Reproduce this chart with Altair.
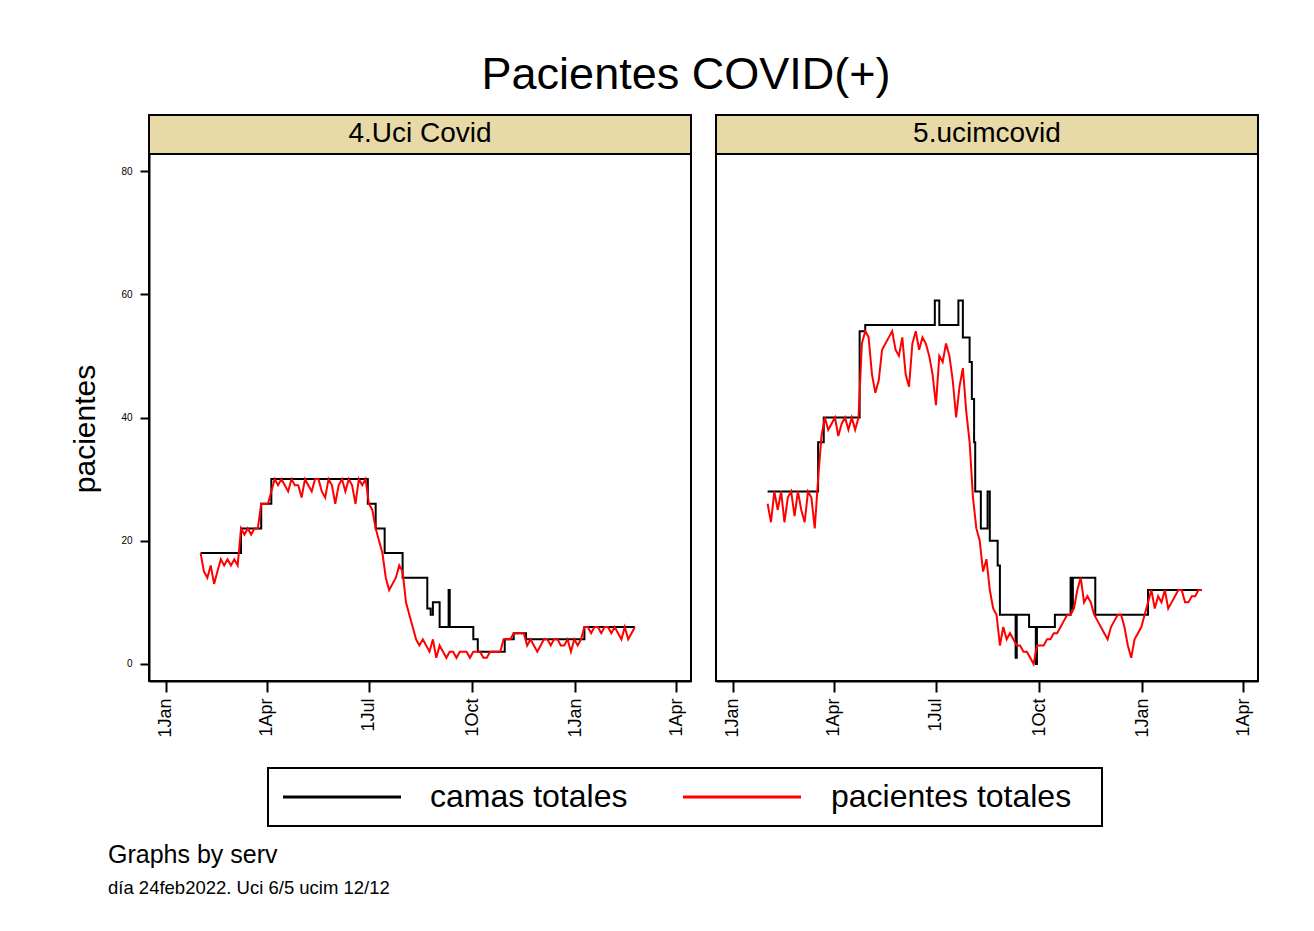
import altair as alt
import pandas as pd

FONT = "Liberation Sans"
START = "2021-02-01"
STEP_DAYS = 3

# ---- data ----
# red: pacientes totales, one value every 3 days from 1 Feb 2021
uci_pacientes = [18, 15, 14, 16, 13, 15, 17, 16, 17, 16, 17, 16, 22, 21, 22, 21, 22, 22,
                 26, 26, 26, 28,
                 30, 29, 30, 29, 28, 30, 29, 29, 27, 30, 29, 28, 30, 30, 28, 27, 30, 29,
                 26, 29, 30, 28, 30, 29, 26, 30, 29, 30,
                 26, 25, 22, 20, 18, 14, 12, 13, 14, 16, 15, 10, 8, 6, 4, 3, 4, 3,
                 2, 4, 1, 3, 2, 1, 2, 2, 1, 2, 2, 2, 1, 2, 2, 2, 1, 1, 2, 2, 2, 2,
                 4, 4, 4, 5, 5, 5, 5,
                 3, 4, 3, 2, 3, 4, 4, 3, 4, 4, 3, 3, 4, 2, 4, 3, 4,
                 6, 6, 5, 6, 6, 5, 6, 6, 5, 6, 5, 4, 6, 4, 5, 6]
ucim_pacientes = [26, 23, 28, 25, 28, 23, 27, 28, 24, 28, 25, 23, 28, 27, 22,
                  30, 37,
                  40, 38, 39, 40, 37, 39, 40, 38, 40, 38, 40,
                  52, 54, 53, 47, 44, 46, 51, 52, 53, 54, 51, 50, 53, 47, 45, 52, 54, 51,
                  53, 52, 50, 47, 42, 50, 49, 52, 50, 46, 40, 45, 48, 41, 36,
                  27, 22, 20, 15, 17, 12, 9, 8, 3, 6, 4, 5, 4, 3, 3, 2, 2, 1, 0,
                  3, 3, 3, 4, 4, 5, 5, 6, 7, 8, 8, 9, 12, 14, 10, 11, 10, 8, 7, 6,
                  5, 4, 6, 7, 8, 8, 6, 3, 1, 4, 5, 6, 8, 10, 12, 9, 11, 10, 12, 9,
                  10, 11, 12, 12, 10, 10, 11, 11, 12, 12]

# black: camas totales, step changes (day after 1 Feb 2021, new value)
uci_camas_day = [0, 36, 54, 63, 149, 156, 164, 180, 202, 205, 207, 213, 221, 222, 243,
                 247, 271, 279, 290, 342, 387]
uci_camas_val = [18, 22, 26, 30, 26, 22, 18, 14, 9, 8, 10, 6, 12, 6, 4, 2, 4, 5, 4, 6, 6]
ucim_camas_day = [0, 45, 50, 82, 87, 149, 153, 170, 174, 180, 182, 184, 185, 190, 196,
                  198, 205, 207, 221, 222, 233, 239, 240, 256, 270, 271, 272, 292, 339, 387]
ucim_camas_val = [28, 36, 40, 54, 55, 59, 55, 59, 53, 49, 43, 36, 28, 22, 28, 20, 16, 8,
                  1, 8, 6, 0, 6, 8, 14, 9, 14, 8, 12, 12]

panel_labels = ["4.Uci Covid", "5.ucimcovid"]
legend_labels = ["camas totales", "pacientes totales"]
title_text = "Pacientes COVID(+)"
ytitle_text = "pacientes"
note1 = "Graphs by serv"
note2 = "día 24feb2022. Uci 6/5 ucim 12/12"
y_ticks = [0, 20, 40, 60, 80]

W, H = 542, 527


def red_frame(vals):
    d = pd.date_range(START, periods=len(vals), freq=f"{STEP_DAYS}D")
    return pd.DataFrame({"fecha": d.strftime("%Y-%m-%d"), "v": vals})


def black_frame(days, vals):
    d = pd.Timestamp(START) + pd.to_timedelta(days, unit="D")
    return pd.DataFrame({"fecha": d.strftime("%Y-%m-%d"), "v": vals})


def dt(y, m, d):
    return alt.DateTime(year=y, month=m, date=d, utc=True)


xscale = alt.Scale(type="utc", domain=[dt(2020, 12, 17), dt(2022, 4, 14)], nice=False)
yscale = alt.Scale(domain=[-2.76, 82.76], nice=False, zero=False)
xticks = [dt(2021, 1, 1), dt(2021, 4, 1), dt(2021, 7, 1), dt(2021, 10, 1),
          dt(2022, 1, 1), dt(2022, 4, 1)]

axis_common = dict(grid=False, title=None, domainColor="black", domainWidth=2,
                   tickColor="black", tickWidth=2, labelColor="black",
                   labelFont=FONT, zindex=1)
xaxis = alt.Axis(values=xticks, labelExpr="utcFormat(datum.value, '%-d%b')",
                 labelAngle=270, labelFontSize=18, tickSize=11, labelPadding=6,
                 labelOverlap=False, **axis_common)
yaxis = alt.Axis(values=y_ticks, labelFontSize=10, tickSize=9, labelPadding=8,
                 **axis_common)


def one(text=""):
    return pd.DataFrame({"t": [text]})


def text_layer(text, x, y, size, align="left", baseline="alphabetic", angle=0):
    kw = dict(fontSize=size, font=FONT, color="black", align=align, baseline=baseline)
    if angle:
        kw["angle"] = angle
    return alt.Chart(one(text)).mark_text(**kw).encode(
        x=alt.value(x), y=alt.value(y), text="t:N")


def panel(red_vals, c_days, c_vals, label, left):
    x = alt.X("fecha:T", scale=xscale, axis=xaxis)
    y = alt.Y("v:Q", scale=yscale, axis=yaxis if left else None)
    layers = []
    if left:
        layers.append(alt.Chart(one()).mark_rect(fill="white").encode(
            x=alt.value(-138), x2=alt.value(1152), y=alt.value(-143), y2=alt.value(772)))
    layers.append(alt.Chart(black_frame(c_days, c_vals)).mark_line(
        color="black", strokeWidth=2, interpolate="step-after").encode(x=x, y=y))
    layers.append(alt.Chart(red_frame(red_vals)).mark_line(
        color="#ff0000", strokeWidth=2).encode(x=x, y=y))
    # plot frame
    layers.append(alt.Chart(one()).mark_rect(
        filled=False, stroke="black", strokeWidth=2).encode(
        x=alt.value(0), x2=alt.value(W), y=alt.value(0), y2=alt.value(H)))
    layers.append(alt.Chart(one()).mark_rect(
        fill="#e8daa6", stroke="black", strokeWidth=2).encode(
        x=alt.value(0), x2=alt.value(W), y=alt.value(-39), y2=alt.value(0)))
    layers.append(text_layer(label, W / 2, -20, 28, align="center", baseline="middle"))
    if left:
        layers.append(text_layer(title_text, 537, -65, 45, align="center"))
        layers.append(text_layer(ytitle_text, -63, 275, 30, align="center",
                                 baseline="middle", angle=270))
        layers.append(alt.Chart(one()).mark_rect(
            fill="white", stroke="black", strokeWidth=2).encode(
            x=alt.value(119), x2=alt.value(953), y=alt.value(614), y2=alt.value(672)))
        layers.append(alt.Chart(one()).mark_rule(color="black", strokeWidth=3).encode(
            x=alt.value(134), x2=alt.value(252), y=alt.value(643)))
        layers.append(alt.Chart(one()).mark_rule(color="#ff0000", strokeWidth=3).encode(
            x=alt.value(534), x2=alt.value(652), y=alt.value(643)))
        layers.append(text_layer(legend_labels[0], 281, 643, 32, baseline="middle"))
        layers.append(text_layer(legend_labels[1], 682, 643, 32, baseline="middle"))
        layers.append(text_layer(note1, -41, 709, 25))
        layers.append(text_layer(note2, -41, 740, 18.5))
    return alt.layer(*layers).properties(width=W, height=H)


left_panel = panel(uci_pacientes, uci_camas_day, uci_camas_val, panel_labels[0], True)
right_panel = panel(ucim_pacientes, ucim_camas_day, ucim_camas_val, panel_labels[1], False)

chart = alt.hconcat(left_panel, right_panel, spacing=25, bounds="flush").properties(
    padding={"left": 2, "top": 2, "right": 0, "bottom": 0}
).configure_view(strokeOpacity=0).configure(background="white")

chart.save("out.html", embed_options={"renderer": "svg", "actions": False})
